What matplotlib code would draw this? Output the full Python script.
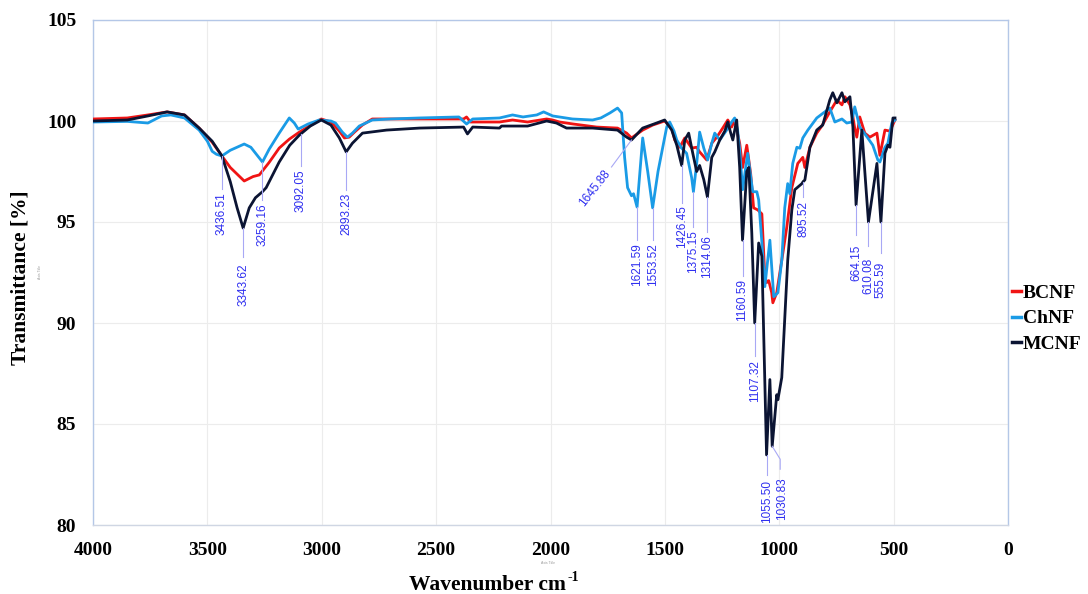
import numpy as np
import matplotlib
matplotlib.use('Agg')
from matplotlib import pyplot as plt
from matplotlib.lines import Line2D

# FTIR spectra of the three nanofibre samples (wavenumber cm-1, transmittance %)
bcnf_wn = [4000, 3850, 3760, 3676, 3600, 3536, 3479, 3436.51, 3400, 3339, 3300, 3273, 3230, 3186,
           3142, 3098, 3040, 3002, 2960, 2923, 2901, 2880, 2857, 2822, 2779, 2573, 2380, 2367, 2350,
           2223, 2166, 2100, 2017, 1991, 1960, 1900, 1798, 1707, 1667, 1645.88, 1597, 1553, 1501,
           1470, 1457, 1435, 1413, 1383, 1361, 1348, 1317, 1295, 1273, 1247, 1225, 1208, 1195,
           1173, 1160, 1142, 1125, 1112, 1094, 1076, 1063, 1055, 1046, 1033, 1028, 1011, 989, 967,
           945, 919, 897, 888, 866, 836, 814, 779, 748, 726, 713, 691, 678, 670, 661, 648, 626,
           604, 573, 560, 538, 516, 494]
bcnf_t = [100.1, 100.15, 100.3, 100.45, 100.3, 99.65, 98.95, 98.27, 97.7, 97.03, 97.25, 97.33, 97.95,
          98.66, 99.1, 99.45, 99.85, 100.1, 99.95, 99.5, 99.16, 99.2, 99.45, 99.8, 100.1, 100.1,
          100.1, 100.2, 99.95, 99.95, 100.05, 99.95, 100.1, 100.05, 99.95, 99.85, 99.7, 99.65,
          99.4, 99.16, 99.55, 99.8, 100.0, 99.65, 99.06, 98.7, 99.16, 98.66, 98.7, 98.47, 98.07,
          98.9, 99.2, 99.65, 100.05, 99.7, 100.05, 98.9, 97.7, 98.8, 97.4, 95.7, 95.6, 95.4, 92.3,
          92.0, 92.1, 91.5, 91.0, 91.5, 93.1, 94.75, 96.7, 97.9, 98.2, 97.7, 98.7, 99.4, 99.75,
          100.45, 101.04, 100.8, 101.2, 100.8, 100.2, 99.65, 99.2, 100.2, 99.4, 99.2, 99.4, 98.3,
          99.55, 99.5, 100.05]

chnf_wn = [4000, 3850, 3760, 3700, 3660, 3600, 3536, 3500, 3479, 3460, 3436.51, 3400, 3339, 3310,
           3259.16, 3230, 3186, 3142, 3120, 3103, 3060, 3011, 2960, 2940, 2910, 2888, 2866, 2836,
           2779, 2700, 2573, 2400, 2367, 2340, 2223, 2166, 2120, 2060, 2030, 1990, 1904, 1816,
           1780, 1740, 1707, 1689, 1676, 1663, 1645.88, 1637, 1621.59, 1597, 1575, 1553.52, 1530,
           1492, 1479, 1460, 1448, 1427, 1405, 1383, 1375.15, 1360, 1348, 1330, 1313, 1295, 1282,
           1260, 1230, 1208, 1195, 1182, 1173, 1160, 1138, 1116, 1098, 1090, 1076, 1063, 1041,
           1024, 1006, 989, 976, 963, 954, 941, 923, 910, 897, 875, 836, 779, 757, 726, 705, 683,
           670, 648, 613, 591, 569, 560, 538, 525, 508, 494]
chnf_t = [99.95, 99.98, 99.9, 100.25, 100.3, 100.15, 99.55, 99.0, 98.5, 98.35, 98.27, 98.55, 98.86,
          98.7, 97.97, 98.6, 99.4, 100.15, 99.9, 99.6, 99.85, 100.05, 100.0, 99.9, 99.45, 99.2,
          99.4, 99.75, 100.05, 100.1, 100.15, 100.2, 99.85, 100.1, 100.15, 100.3, 100.2, 100.3,
          100.45, 100.25, 100.1, 100.05, 100.15, 100.4, 100.64, 100.4, 98.2, 96.7, 96.3, 96.4,
          95.74, 99.16, 97.5, 95.7, 97.5, 99.7, 99.95, 99.5, 99.06, 98.66, 98.4, 97.2, 96.5, 98.0,
          99.45, 98.66, 98.07, 98.9, 99.4, 99.06, 99.55, 99.95, 100.15, 99.55, 98.56, 96.6, 98.4,
          96.5, 96.5, 96.1, 94.0, 91.8, 94.1, 91.3, 91.5, 93.1, 95.7, 96.9, 96.4, 97.9, 98.7,
          98.65, 99.16, 99.55, 100.15, 100.64, 99.95, 100.1, 99.9, 99.95, 100.7, 99.7, 99.16,
          98.8, 98.07, 97.97, 98.7, 98.9, 99.9, 100.05]

mcnf_wn = [4000, 3850, 3760, 3676, 3600, 3536, 3479, 3436.51, 3400, 3370, 3343.62, 3317, 3290,
           3259.16, 3243, 3186, 3140, 3098, 3050, 3002, 2960, 2923, 2893.23, 2866, 2822, 2717,
           2573, 2380, 2363, 2340, 2223, 2214, 2100, 2017, 1974, 1930, 1816, 1707, 1667, 1645.88,
           1597, 1536, 1501, 1470, 1448, 1426.45, 1413, 1396, 1378, 1361, 1348, 1330, 1314.06,
           1295, 1282, 1260, 1238, 1225, 1212, 1203, 1186, 1173, 1160.59, 1142, 1133, 1120,
           1107.32, 1090, 1076, 1055.50, 1041, 1030.83, 1011, 1006, 989, 985, 963, 945, 932, 901,
           895.52, 888, 866, 836, 810, 779, 766, 748, 726, 713, 691, 678, 664.15, 639, 610.08,
           573, 555.59, 538, 525, 516, 503, 494]
mcnf_t = [100.0, 100.05, 100.25, 100.45, 100.3, 99.65, 99.0, 98.27, 97.0, 95.7, 94.7, 95.7, 96.2,
          96.5, 96.7, 97.97, 98.8, 99.3, 99.75, 100.05, 99.8, 99.16, 98.47, 98.9, 99.4, 99.55,
          99.65, 99.7, 99.36, 99.7, 99.65, 99.75, 99.75, 100.0, 99.9, 99.65, 99.65, 99.55, 99.2,
          99.06, 99.65, 99.9, 100.05, 99.55, 98.8, 97.8, 99.06, 99.4, 98.4, 97.5, 97.8, 97.1,
          96.24, 98.2, 98.47, 99.06, 99.5, 99.95, 99.4, 99.06, 100.05, 97.7, 94.1, 97.5, 97.7,
          94.45, 90.0, 93.96, 93.3, 83.47, 87.2, 83.9, 86.45, 86.2, 87.3, 88.2, 93.1, 95.6, 96.6,
          96.9, 97.0, 97.08, 98.7, 99.55, 99.8, 101.04, 101.4, 100.9, 101.4, 100.95, 101.2, 99.7,
          95.84, 99.55, 95.0, 97.9, 95.0, 98.4, 98.8, 98.7, 100.15, 100.15]

series_names = ['BCNF', 'ChNF', 'MCNF']
series_colors = ['#f01414', '#1a9be6', '#0b1433']

# labelled bands: wavenumber, curve the leader starts on, leader length / gap (px)
peak_values = [3436.51, 3343.62, 3259.16, 3092.05, 2893.23, 1621.59, 1553.52, 1426.45, 1375.15,
               1314.06, 1160.59, 1107.32, 1055.50, 895.52, 664.15, 610.08, 555.59]
peak_series = ['MCNF', 'MCNF', 'ChNF', 'MCNF', 'MCNF', 'ChNF', 'ChNF', 'MCNF', 'ChNF',
               'MCNF', 'MCNF', 'MCNF', 'MCNF', 'MCNF', 'MCNF', 'MCNF', 'MCNF']
leader_len = [33, 29, 38, 32, 38, 33, 32, 38, 35, 35, 36, 33, 20, 15, 30, 24, 31]
leader_gap = [3, 6, 3, 3, 3, 3, 3, 2, 3, 3, 3, 4, 5, 4, 10, 12, 9]

data = {
    'BCNF': (np.array(bcnf_wn), np.array(bcnf_t)),
    'ChNF': (np.array(chnf_wn), np.array(chnf_t)),
    'MCNF': (np.array(mcnf_wn), np.array(mcnf_t)),
}

serif = ['Liberation Serif', 'DejaVu Serif']
sans = ['Liberation Sans', 'DejaVu Sans']
lab_col = '#2f2ff0'
lead_col = '#a8a8f5'

fig = plt.figure(figsize=(10.88, 5.94), dpi=100)
ax = fig.add_axes([93/1088, 1-525/594, (1008-93)/1088, (525-20)/594])

for name, col in zip(series_names, series_colors):
    wn, t = data[name]
    ax.plot(wn, t, color=col, lw=2.0, solid_joinstyle='round', zorder=3)

ax.set_xlim(4000, 0)
ax.set_ylim(80, 105)
ax.set_xticks(np.arange(4000, -1, -500))
ax.set_yticks(np.arange(80, 106, 5))
ax.grid(True, color='#ececec', lw=0.8, zorder=0)
ax.tick_params(length=0, pad=12, labelsize=14)
for lab in ax.get_xticklabels() + ax.get_yticklabels():
    lab.set_fontfamily(serif)
    lab.set_fontweight('bold')
for s in ax.spines.values():
    s.set_color('#b4c7e7')
    s.set_linewidth(1.0)
ax.spines['bottom'].set_color('#cfd6e3')


def val_at(name, x):
    wn, t = data[name]
    return float(np.interp(x, wn[::-1], t[::-1]))


def px_to_data(x, y, dx, dy):
    # shift a data point by (dx, dy) display pixels
    d = ax.transData.transform((x, y))
    return ax.transData.inverted().transform((d[0] + dx, d[1] + dy))


lab_kw = dict(fontsize=8.5, color=lab_col, family=sans, rotation=90, ha='center', va='top', zorder=5)

for v, sname, ll, gap in zip(peak_values, peak_series, leader_len, leader_gap):
    y0 = val_at(sname, v)
    x1, y1 = px_to_data(v, y0, 0, -ll)
    ax.plot([v, x1], [y0, y1], color=lead_col, lw=0.8, zorder=4)
    ax.annotate('%.2f' % v, xy=(v, y0), xytext=(0, -(ll + gap)),
                textcoords='offset pixels', **lab_kw)

# 1645.88 - angled label
v = 1645.88
y0 = val_at('MCNF', v)
x1, y1 = px_to_data(v, y0, -20, -27)
ax.plot([v, x1], [y0, y1], color=lead_col, lw=0.8, zorder=4)
ax.annotate('%.2f' % v, xy=(v, y0), xytext=(-19, -28), textcoords='offset pixels',
            fontsize=8.5, color=lab_col, family=sans, rotation=52, ha='right', va='top', zorder=5)

# 1030.83 - bent leader
v = 1030.83
y0 = val_at('MCNF', v)
xa, ya = px_to_data(v, y0, 8, -13)
xb, yb = px_to_data(v, y0, 8, -23)
ax.plot([v, xa, xb], [y0, ya, yb], color=lead_col, lw=0.8, zorder=4)
ax.annotate('%.2f' % v, xy=(v, y0), xytext=(10, -31), textcoords='offset pixels', **lab_kw)

handles = [Line2D([], [], color=c, lw=2.5) for c in series_colors]
leg = fig.legend(handles, series_names, loc='upper left', bbox_to_anchor=(1012/1088, 1-284/594),
                 frameon=False, handlelength=0.45, handletextpad=0.1, labelspacing=0.42,
                 borderaxespad=0, borderpad=0,
                 prop=dict(family=serif, weight='bold', size=14))

fig.text(21/1088, 1-278/594, 'Transmittance [%]', rotation=90, ha='center', va='center',
         fontsize=15.5, fontweight='bold', family=serif)
fig.text(566/1088, 1-590/594, 'Wavenumber cm', ha='right', va='baseline',
         fontsize=15.5, fontweight='bold', family=serif)
fig.text(567/1088, 1-581/594, '-1', ha='left', va='baseline',
         fontsize=10, fontweight='bold', family=serif)
fig.text(40/1088, 1-272/594, 'Axis Title', rotation=90, ha='center', va='center',
         fontsize=2.5, color='#999999', family=sans)
fig.text(548/1088, 1-563/594, 'Axis Title', ha='center', va='center',
         fontsize=2.5, color='#999999', family=sans)

fig.savefig('out.png', dpi=100)
